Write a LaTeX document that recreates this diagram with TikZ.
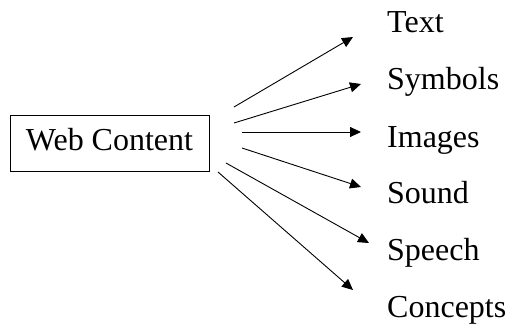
\documentclass[tikz,border=0pt]{standalone}
\usepackage{fontspec}
\setmainfont{Liberation Serif}
\usetikzlibrary{arrows.meta}
\begin{document}
\begin{tikzpicture}[x=1pt,y=-1pt,
  conn/.style={line width=0.9pt,-{Triangle[length=11pt,width=10pt]}},
  lbl/.style={anchor=base west,inner sep=0pt,font=\fontsize{32}{38}\selectfont},
  mainbox/.style={draw,line width=0.8pt,minimum width=199pt,minimum height=56pt,inner sep=0pt,
    text height=21.5pt,text depth=6pt,font=\fontsize{32}{38}\selectfont}]
\useasboundingbox (0,0) rectangle (507,325);
\node[mainbox] (web) at (109.5,143) {Web Content};
\node[lbl] (t1) at (387,32) {Text};
\node[lbl] (t2) at (387,89) {Symbols};
\node[lbl] (t3) at (387,147) {Images};
\node[lbl] (t4) at (387,203) {Sound};
\node[lbl] (t5) at (387,260) {Speech};
\node[lbl] (t6) at (387,317) {Concepts};
\coordinate (s1) at (234,107); \coordinate (e1) at (353,37);
\coordinate (s2) at (234,123); \coordinate (e2) at (361,84);
\coordinate (s3) at (242,132); \coordinate (e3) at (361,132);
\coordinate (s4) at (242,148); \coordinate (e4) at (361,187);
\coordinate (s5) at (226,163); \coordinate (e5) at (369,243);
\coordinate (s6) at (218,172); \coordinate (e6) at (353,290);
\foreach \i in {1,...,6} {\draw[conn] (s\i) -- (e\i);}
\end{tikzpicture}
\end{document}
